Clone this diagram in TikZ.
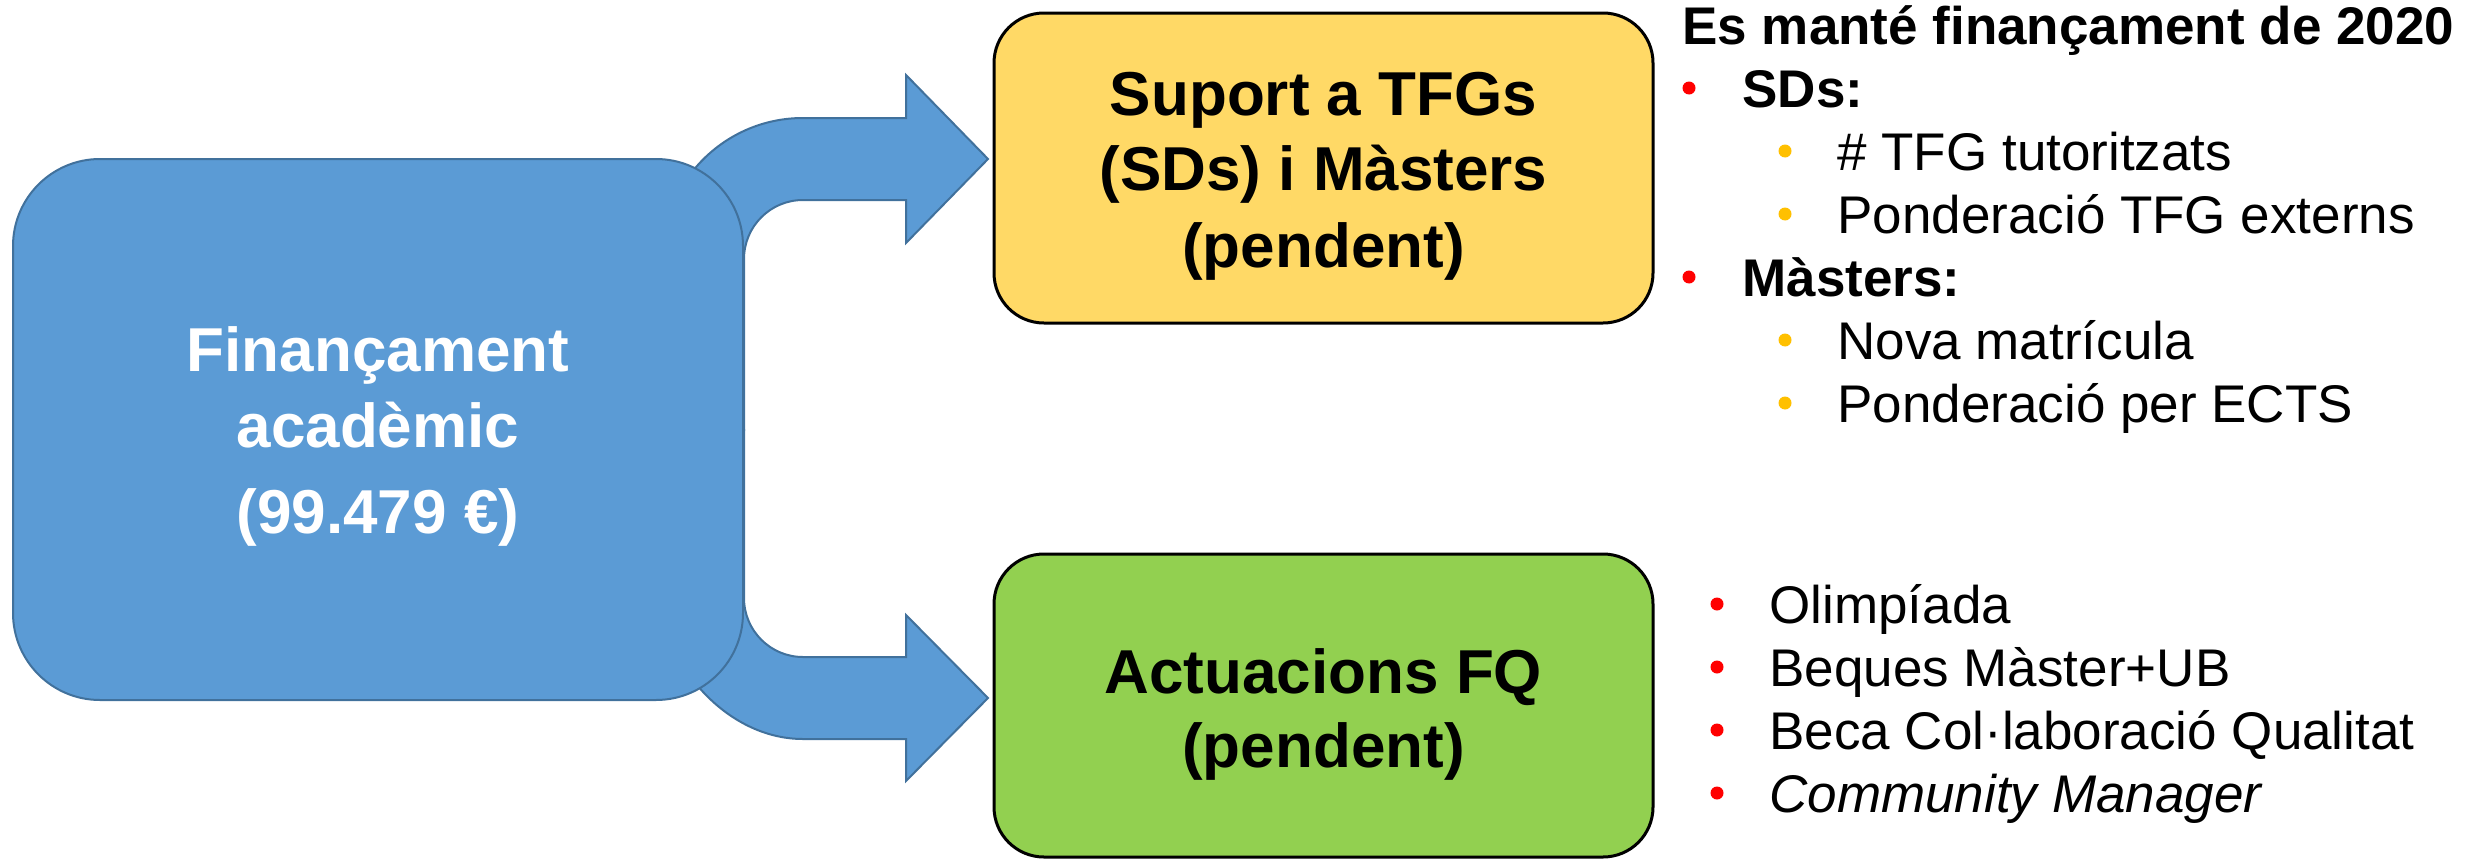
\documentclass[tikz,border=0pt]{standalone}
\usepackage{fontspec}
\setmainfont{Liberation Sans}
\usepackage{tikz}
\usepackage{xcolor}
\usetikzlibrary{calc,positioning}
\definecolor{boxblue}{RGB}{91,155,213}
\definecolor{edgeblue}{RGB}{65,113,156}
\definecolor{boxyellow}{RGB}{255,217,102}
\definecolor{boxgreen}{RGB}{146,208,80}
\definecolor{subdot}{RGB}{255,192,0}
\tikzset{
  fund/.style={ % big blue block on the left
    rectangle, rounded corners=43.5pt, fill=boxblue, draw=edgeblue,
    line width=1pt, minimum width=365pt, minimum height=270.5pt,
    inner sep=0pt
  },
  target/.style={ % rounded block the arrows point to
    rectangle, rounded corners=25pt, draw=black, line width=1.5pt,
    minimum width=329.5pt, inner sep=0pt
  },
  boxline/.style={ % one line of bold text inside a block
    anchor=base, inner sep=0pt, font=\fontsize{31}{38}\selectfont\bfseries
  },
  bent/.style={ % block arrow bending out of the blue block
    fill=boxblue, draw=edgeblue, line width=1pt, line join=miter
  },
  item/.style={
    anchor=base west, inner sep=0pt, font=\fontsize{26.5}{31.5}\selectfont
  },
  bdot/.style={
    circle, fill=#1, inner sep=0pt, minimum size=6.5pt
  }
}
\begin{document}
\begin{tikzpicture}[x=0.5pt, y=-0.5pt]
  \useasboundingbox (0,0) rectangle (2478,862);

  % arrows first, the blue block hides their feet
  \path[bent] (662,430) -- (662,259)
      .. controls (662,181.1) and (725.1,118) .. (803,118)
      -- (906,118) -- (906,75) -- (988,159) -- (906,243) -- (906,200) -- (803,200)
      .. controls (770.4,200) and (744,226.4) .. (744,259)
      -- (744,430) -- cycle;
  \path[bent] (744,430) -- (744,598)
      .. controls (744,630.6) and (770.4,657) .. (803,657)
      -- (906,657) -- (906,615) -- (988,698) -- (906,781) -- (906,739) -- (803,739)
      .. controls (725.1,739) and (662,661.1) .. (662,598)
      -- (662,430) -- cycle;

  \node[fund] (F) at (378,429.5) {};
  \node[target, fill=boxyellow, minimum height=155pt] (S) at (1323.5,168) {};
  \node[target, fill=boxgreen, minimum height=151.5pt] (Q) at (1323.5,705.5) {};

  \node[boxline, text=white] (f_one) at (378,371) {Finançament};
  \node[boxline, text=white] (f_two) at (378,447) {acadèmic};
  \node[boxline, text=white] (f_three) at (378,533) {(99.479 €)};
  \node[boxline] (s_one) at (1323.5,115) {Suport a TFGs};
  \node[boxline] (s_two) at (1323.5,190) {(SDs) i Màsters};
  \node[boxline] (s_three) at (1323.5,267) {(pendent)};
  \node[boxline] (q_one) at (1323.5,693) {Actuacions FQ};
  \node[boxline] (q_two) at (1323.5,767) {(pendent)};

  % upper list
  \node[item, font=\fontsize{26.5}{31.5}\selectfont\bfseries] (s_title) at (1682,44)
      {Es manté finançament de 2020};
  \node[item, font=\fontsize{26.5}{31.5}\selectfont\bfseries] (s_sds) at (1742,107) {SDs:};
  \node[item] (s_tut) at (1837,170) {\# TFG tutoritzats};
  \node[item] (s_ext) at (1837,233) {Ponderació TFG externs};
  \node[item, font=\fontsize{26.5}{31.5}\selectfont\bfseries] (s_mas) at (1742,296) {Màsters:};
  \node[item] (s_mat) at (1837,359) {Nova matrícula};
  \node[item] (s_ects) at (1837,422) {Ponderació per ECTS};
  \node[bdot=red] (sds_dot) at (1689,88) {};
  \node[bdot=subdot] (tut_dot) at (1785,151) {};
  \node[bdot=subdot] (ext_dot) at (1785,214) {};
  \node[bdot=red] (mas_dot) at (1689,277) {};
  \node[bdot=subdot] (mat_dot) at (1785,340) {};
  \node[bdot=subdot] (ects_dot) at (1785,403) {};

  % lower list
  \node[item] (q_oli) at (1769,623) {Olimpíada};
  \node[item] (q_beq) at (1769,686) {Beques Màster+UB};
  \node[item] (q_col) at (1769,749) {Beca Col·laboració Qualitat};
  \node[item, font=\fontsize{26.5}{31.5}\selectfont\itshape] (q_cm) at (1769,812) {Community Manager};
  \node[bdot=red] (oli_dot) at (1717,604) {};
  \node[bdot=red] (beq_dot) at (1717,667) {};
  \node[bdot=red] (col_dot) at (1717,730) {};
  \node[bdot=red] (cm_dot) at (1717,793) {};
\end{tikzpicture}
\end{document}
